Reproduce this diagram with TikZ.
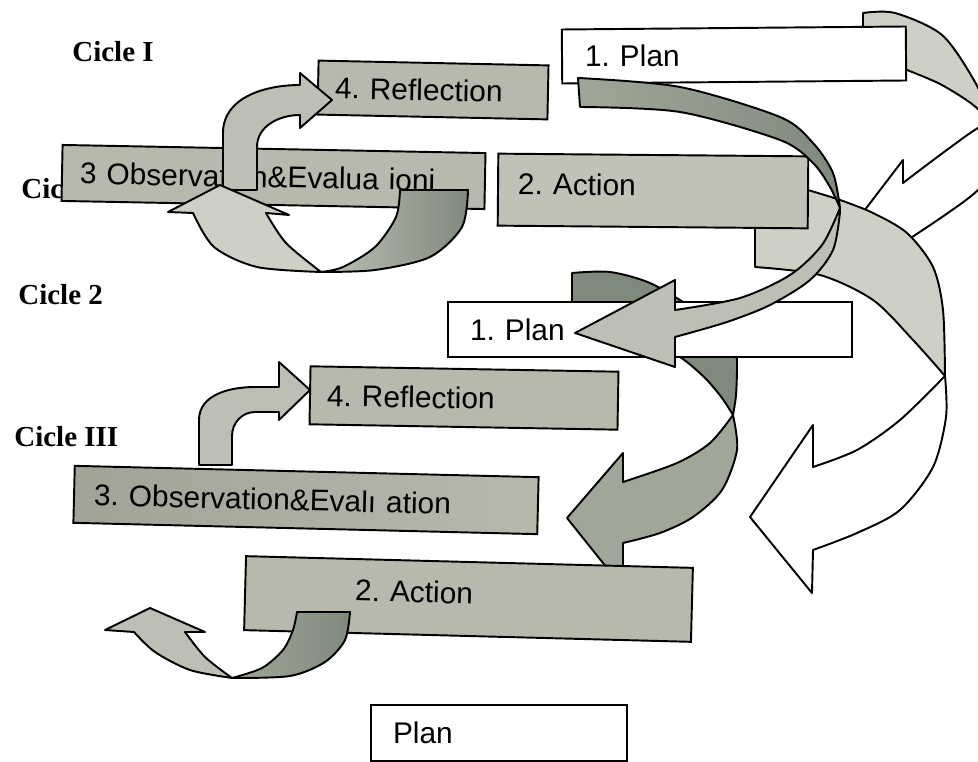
\documentclass[tikz,border=0pt]{standalone}
\usepackage{fontspec}
\setmainfont{Liberation Serif}
\newfontfamily\boxfont{Liberation Sans}
\definecolor{box_gray}{RGB}{182,185,172}
\definecolor{box_light}{RGB}{192,194,182}
\definecolor{box_dark}{RGB}{160,164,150}
\definecolor{arr_dark}{RGB}{128,138,124}
\definecolor{arr_mid}{RGB}{160,167,153}
\definecolor{arr_light}{RGB}{188,192,180}
\definecolor{arr_pale}{RGB}{206,208,198}
\tikzstyle{box}=[rectangle,draw=black,line width=1.1pt,fill=box_gray,align=left,
  inner ysep=0pt,font=\boxfont\fontsize{17}{20}\selectfont\frenchspacing]
\tikzstyle{pn}=[box,fill=white]
\tikzstyle{cl}=[anchor=west,inner sep=0pt,font=\bfseries\fontsize{16.5}{19}\selectfont]
\tikzstyle{band}=[draw=black,line width=1.1pt,line join=round]

\begin{document}
\begin{tikzpicture}[x=0.2mm,y=-0.2mm]
            \useasboundingbox (0,0) rectangle (978,762);
            \clip (0,0) rectangle (978,762);
            \node [style=cl] (c1) at (72,52) {Cicle I};
            \node [style=cl] (c1b) at (21,189) {Cicle};
            \node [style=cl] (c2) at (18,295) {Cicle 2};
            \node [style=cl] (c3) at (14,437) {Cicle III};
            \filldraw [style=band, fill=arr_pale] plot[smooth] coordinates {(863,13) (895,13) (942,35) (975,82) (994,125)}
                -- plot[smooth] coordinates {(994,125) (972,104) (940,84) (907,70)} -- (863,70) -- cycle;
            \filldraw [style=band, fill=white] plot[smooth] coordinates {(994,125) (978,128) (940,155) (903,183)}
                -- (903,160) -- (848,232) -- (905,268) -- (900,245)
                -- plot[smooth] coordinates {(900,245) (945,215) (978,190) (1000,160) (994,127)} -- cycle;
            \filldraw [style=band, fill=arr_pale] (755,267) -- (755,190)
                -- plot[smooth] coordinates {(808,190) (840,200) (873,213) (907,233) (933,267) (943,310) (945,376)}
                -- plot[smooth] coordinates {(945,376) (913,340) (873,300) (820,275) (755,267)} -- cycle;
            \filldraw [style=band, fill=white] plot[smooth] coordinates {(945,376) (946,417) (933,467) (900,510) (857,533) (813,550)}
                -- (812,593) -- (750,517) -- (813,425) -- (813,467)
                -- plot[smooth] coordinates {(813,467) (857,450) (900,420) (945,376)} -- cycle;
            \filldraw [style=band, fill=arr_dark] (572,312) -- (572,273)
                -- plot[smooth] coordinates {(572,273) (610,272) (650,283) (690,306) (720,322) (735,345) (737,365) (736,395) (733,415)}
                -- plot[smooth] coordinates {(733,415) (722,398) (705,378) (680,357) (640,335) (600,320) (572,312)} -- cycle;
            \filldraw [style=band, fill=arr_mid] plot[smooth] coordinates {(733,415) (737,450) (722,490) (693,517) (660,533) (623,543)}
                -- (623,588) -- (567,518) -- (623,453) -- (623,482)
                -- plot[smooth] coordinates {(623,482) (677,463) (710,443) (733,415)} -- cycle;
            \node [style=pn, minimum width=68.8mm, minimum height=10.8mm, text width=59.6mm, inner xsep=4.6mm, rotate=0.5] (plan1) at (734,55) {1. Plan};
            \node [style=box, minimum width=46mm, minimum height=10.8mm, text width=39.2mm, inner xsep=3.4mm, rotate=-1.2] (refl1) at (433,90) {4. Reflection};
            \node [style=box, minimum width=84.6mm, minimum height=11.2mm, text width=77.4mm, inner xsep=3.6mm, rotate=-1.1] (obs1) at (273.5,177) {3 Observation\&Evalua ioni};
            \node [style=box, fill=box_light, minimum width=62mm, minimum height=14.4mm, text width=54mm, inner xsep=4mm, text depth=2.4mm, rotate=-0.5] (act1) at (653,191) {2. Action};
            \node [style=pn, minimum width=80.8mm, minimum height=11mm, text width=72mm, inner xsep=4.4mm] (plan2) at (650,329.5) {1. Plan};
            \node [style=box, minimum width=61.6mm, minimum height=11.6mm, text width=54.8mm, inner xsep=3.4mm, rotate=-1] (refl2) at (464,398) {4. Reflection};
            \node [style=box, left color=box_dark, right color=box_gray, minimum width=92.8mm, minimum height=11.4mm, text width=84.8mm, inner xsep=4mm, rotate=-1.4] (obs2) at (306,500) {3. Observation\&Evalı ation};
            \node [style=box, minimum width=89.4mm, minimum height=14.8mm, text width=45.4mm, inner xsep=22mm, text depth=2.4mm, rotate=-1.5] (act2) at (468.5,599) {2. Action};
            \node [style=pn, minimum width=51.2mm, minimum height=11.2mm, text width=42.4mm, inner xsep=4.4mm] (plan3) at (499,733) {Plan};
            \filldraw [style=band, fill=arr_light] (223,190) -- (223,133) to[out=90,in=180] (300,85) -- (300,73) -- (332,100)
                -- (300,128) -- (300,115) to[out=180,in=90] (257,147) -- (257,190) -- cycle;
            \draw [style=band, left color=arr_light, right color=arr_dark] (400,190) -- (468,190)
                -- plot[smooth] coordinates {(468,190) (462,227) (430,257) (375,270) (321,272)}
                -- plot[smooth] coordinates {(321,272) (343,267) (375,247) (396,217) (400,190)} -- cycle;
            \filldraw [style=band, fill=arr_pale] plot[smooth] coordinates {(321,272) (257,267) (214,247) (193,213)}
                -- (168,212) -- (220,185) -- (289,215) -- (266,213)
                -- plot[smooth] coordinates {(266,213) (286,243) (321,272)} -- cycle;
            \draw [style=band, left color=arr_mid, right color=arr_dark] (580,107) -- (578,78)
                -- plot[smooth] coordinates {(578,78) (680,87) (780,117) (813,143) (833,173) (840,208)}
                -- plot[smooth] coordinates {(840,208) (830,187) (813,163) (780,140) (680,112) (580,107)} -- cycle;
            \filldraw [style=band, fill=arr_light] plot[smooth] coordinates {(840,208) (822,245) (790,275) (740,298) (675,310)}
                -- (675,280) -- (575,333) -- (675,367) -- (675,337)
                -- plot[smooth] coordinates {(675,337) (727,322) (770,305) (810,280) (833,250) (840,212)} -- cycle;
            \filldraw [style=band, fill=arr_light] (199,465) -- (199,420) to[out=90,in=180] (255,387) -- (279,387) -- (279,362)
                -- (310,390) -- (279,420) -- (279,412) -- (255,412) to[out=180,in=90] (232,436) -- (232,465) -- cycle;
            \draw [style=band, left color=arr_mid, right color=arr_dark] (297,612) -- (350,612)
                -- plot[smooth] coordinates {(350,612) (345,640) (325,662) (290,676) (232,678)}
                -- plot[smooth] coordinates {(232,678) (262,668) (283,650) (293,630) (297,612)} -- cycle;
            \filldraw [style=band, fill=arr_light] plot[smooth] coordinates {(232,678) (190,670) (155,652) (134,632)}
                -- (105,630) -- (150,608) -- (205,632) -- (185,632)
                -- plot[smooth] coordinates {(185,632) (205,657) (232,678)} -- cycle;
\end{tikzpicture}
\end{document}
